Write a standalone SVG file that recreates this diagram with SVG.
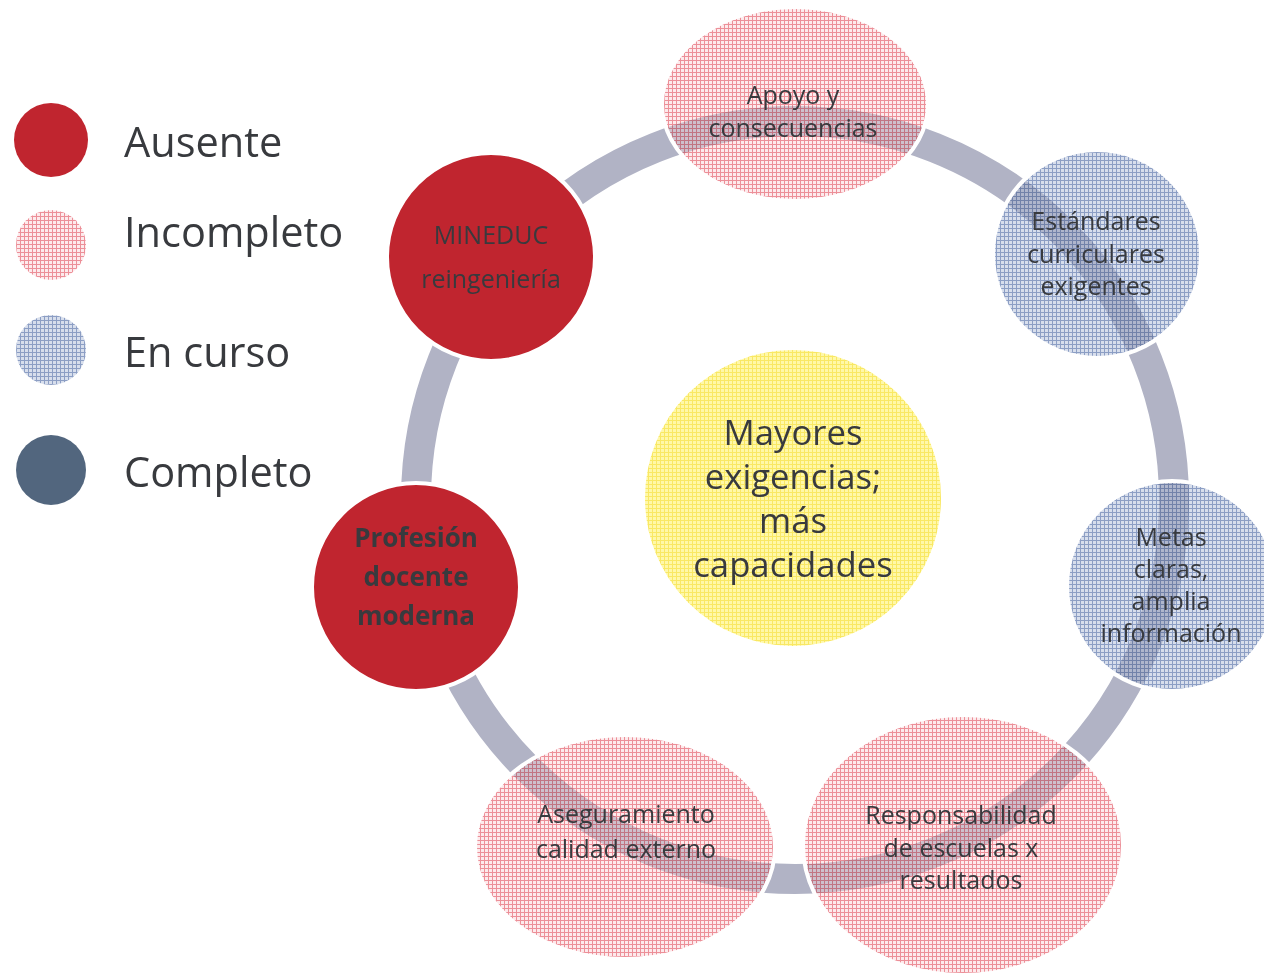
<svg xmlns="http://www.w3.org/2000/svg" width="1264" height="976" viewBox="0 0 1264 976">
<defs>
<pattern id="pPink" width="4" height="4" patternUnits="userSpaceOnUse">
<rect width="4" height="4" fill="#fdeaec"/>
<rect width="4" height="1" fill="#ec8f98"/>
<rect width="1" height="4" fill="#ec8f98"/>
</pattern>
<pattern id="pBlue" width="4" height="4" patternUnits="userSpaceOnUse">
<rect width="4" height="4" fill="#d7deec"/>
<rect width="4" height="1" fill="#8c9ec4"/>
<rect width="1" height="4" fill="#8c9ec4"/>
</pattern>
<pattern id="pYellow" width="4" height="4" patternUnits="userSpaceOnUse">
<rect width="4" height="4" fill="#fff8a8"/>
<rect width="4" height="1" fill="#f9e864"/>
<rect width="1" height="4" fill="#f9e864"/>
</pattern>
</defs>
<style>
text{font-family:"Open Sans","Noto Sans","DejaVu Sans",sans-serif;fill:#383a3e;text-anchor:middle}
.leg{font-size:41.5px;text-anchor:start}
.n{font-size:25px}
.b{font-size:26px;font-weight:bold}
.c{font-size:34.7px}
.node{stroke:#ffffff;stroke-width:4}
.rim{fill:none;stroke:#ffffff;stroke-width:4}
.mul{mix-blend-mode:multiply}
.veil{opacity:0.4}
.red{fill:#c0252f}
.pink{fill:url(#pPink)}
.blue{fill:url(#pBlue)}
.yellow{fill:url(#pYellow)}
</style>
<rect width="1264" height="976" fill="#ffffff"/>

<g id="legend">
<g id="legend-ausente"><circle cx="51" cy="140" r="37" class="red"/><text class="leg" x="124" y="157">Ausente</text></g>
<g id="legend-incompleto"><circle cx="51" cy="245" r="35" class="pink"/><text class="leg" x="124" y="247">Incompleto</text></g>
<g id="legend-encurso"><circle cx="51" cy="350" r="35" class="blue"/><text class="leg" x="124" y="367">En curso</text></g>
<g id="legend-completo"><circle cx="51" cy="470" r="35" fill="#52667e"/><text class="leg" x="124" y="487">Completo</text></g>
</g>

<g id="connectors">
<circle cx="795" cy="500" r="379" fill="none" stroke="#b1b3c5" stroke-width="30"/>
</g>

<g id="node-centro">
<circle cx="793" cy="498" r="150" class="node yellow"/>
<text class="c" x="793" y="445">Mayores</text>
<text class="c" x="793" y="489">exigencias;</text>
<text class="c" x="793" y="533">más</text>
<text class="c" x="793" y="577">capacidades</text>
</g>

<g id="node-apoyo">
<ellipse cx="795" cy="104" rx="133" ry="97" class="pink mul"/>
<ellipse cx="795" cy="104" rx="133" ry="97" class="pink veil"/>
<ellipse cx="795" cy="104" rx="133" ry="97" class="rim"/>
<text class="n" x="793" y="104">Apoyo y</text>
<text class="n" x="793" y="137">consecuencias</text>
</g>

<g id="node-estandares">
<circle cx="1097" cy="254" r="104" class="blue mul"/>
<circle cx="1097" cy="254" r="104" class="blue veil"/>
<circle cx="1097" cy="254" r="104" class="rim"/>
<text class="n" x="1096" y="230">Estándares</text>
<text class="n" x="1096" y="263">curriculares</text>
<text class="n" x="1096" y="295">exigentes</text>
</g>

<g id="node-metas">
<circle cx="1172" cy="586" r="105" class="blue mul"/>
<circle cx="1172" cy="586" r="105" class="blue veil"/>
<circle cx="1172" cy="586" r="105" class="rim"/>
<text class="n" x="1171" y="546">Metas</text>
<text class="n" x="1171" y="578">claras,</text>
<text class="n" x="1171" y="610">amplia</text>
<text class="n" x="1171" y="642">información</text>
</g>

<g id="node-responsabilidad">
<ellipse cx="963" cy="845" rx="160" ry="130" class="pink mul"/>
<ellipse cx="963" cy="845" rx="160" ry="130" class="pink veil"/>
<ellipse cx="963" cy="845" rx="160" ry="130" class="rim"/>
<text class="n" x="961" y="824">Responsabilidad</text>
<text class="n" x="961" y="857">de escuelas x</text>
<text class="n" x="961" y="889">resultados</text>
</g>

<g id="node-aseguramiento">
<ellipse cx="625" cy="847" rx="150" ry="112" class="pink mul"/>
<ellipse cx="625" cy="847" rx="150" ry="112" class="pink veil"/>
<ellipse cx="625" cy="847" rx="150" ry="112" class="rim"/>
<text class="n" x="626" y="823">Aseguramiento</text>
<text class="n" x="626" y="858">calidad externo</text>
</g>

<g id="node-profesion">
<circle cx="416" cy="587" r="104" class="node red"/>
<text class="b" x="416" y="547">Profesión</text>
<text class="b" x="416" y="586">docente</text>
<text class="b" x="416" y="625">moderna</text>
</g>

<g id="node-mineduc">
<circle cx="491" cy="257" r="104" class="node red"/>
<text class="n" x="491" y="244">MINEDUC</text>
<text class="n" x="491" y="288">reingeniería</text>
</g>
</svg>
